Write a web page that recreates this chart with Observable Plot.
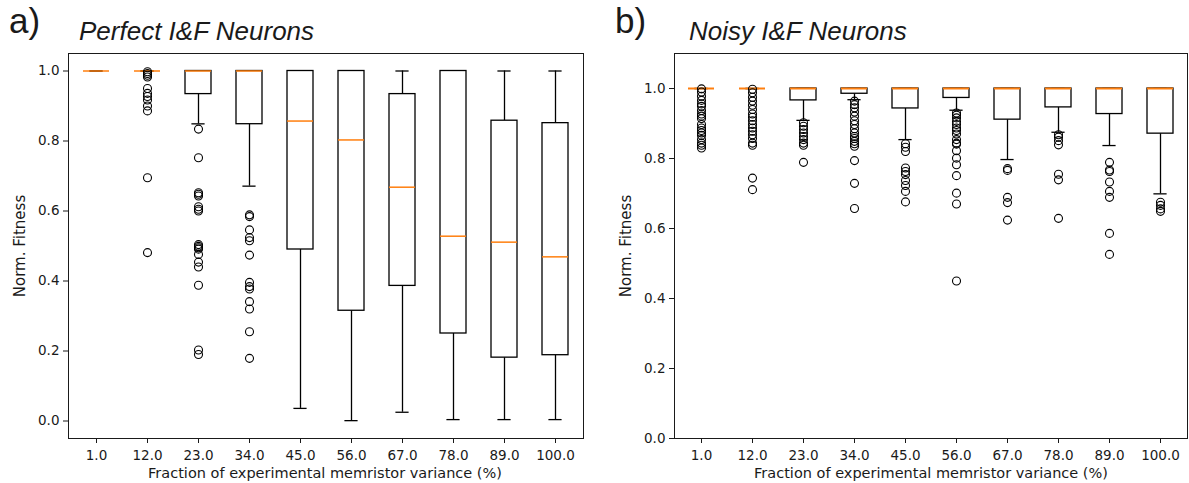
<!DOCTYPE html>
<html>
<head>
<meta charset="utf-8">
<script src="https://cdn.jsdelivr.net/npm/d3@7"></script>
<script src="https://cdn.jsdelivr.net/npm/@observablehq/plot@0.6"></script>
<style>
  html, body { margin: 0; padding: 0; background: white; }
  #wrap { position: relative; width: 1189px; height: 483px; overflow: hidden; background: white; }
  .panel { position: absolute; top: 0; }
  .lbl { position: absolute; white-space: nowrap; line-height: 1; color: #1a1a1a; }
  .axlab { font-family: "DejaVu Sans", sans-serif; }
  .title { font-family: "Liberation Sans", Arial, sans-serif; font-style: italic; font-size: 26px; }
  .letter { font-family: "Liberation Sans", Arial, sans-serif; font-size: 35px; }
  .ylab { font-size: 15px; transform: translate(-50%, -50%) rotate(-90deg); }
  .xlab { font-size: 14.5px; transform: translateX(-50%); }
</style>
</head>
<body>
<div id="wrap">
  <div class="panel" id="pa" style="left:0px"></div>
  <div class="panel" id="pb" style="left:600px"></div>
  <div class="lbl letter" style="left:9px; top:3px">a)</div>
  <div class="lbl title" style="left:79px; top:18px">Perfect I&amp;F Neurons</div>
  <div class="lbl letter" style="left:615px; top:3px">b)</div>
  <div class="lbl title" style="left:689px; top:18px">Noisy I&amp;F Neurons</div>
  <div class="lbl axlab ylab" style="left:20px; top:246px">Norm. Fitness</div>
  <div class="lbl axlab ylab" style="left:626px; top:246px">Norm. Fitness</div>
  <div class="lbl axlab xlab" style="left:325px; top:466px">Fraction of experimental memristor variance (%)</div>
  <div class="lbl axlab xlab" style="left:931px; top:466px">Fraction of experimental memristor variance (%)</div>
</div>
<script>
// ---------- data ----------
const categories = ["1.0", "12.0", "23.0", "34.0", "45.0", "56.0", "67.0", "78.0", "89.0", "100.0"];
const yTicks = [0, 0.2, 0.4, 0.6, 0.8, 1.0];

// a) Perfect I&F neurons
const perfectLow    = [1.0, 1.0, 0.849, 0.671, 0.036, 0.001, 0.025, 0.004, 0.004, 0.004];
const perfectQ1     = [1.0, 1.0, 0.934, 0.848, 0.490, 0.315, 0.386, 0.250, 0.181, 0.188];
const perfectMedian = [1.0, 1.0, 1.0, 1.0, 0.857, 0.803, 0.668, 0.528, 0.511, 0.469];
const perfectQ3     = [1.0, 1.0, 1.0, 1.0, 1.0, 1.0, 0.934, 1.0, 0.858, 0.851];
const perfectHigh   = [1.0, 1.0, 1.0, 1.0, 1.0, 1.0, 1.0, 1.0, 1.0, 1.0];
const perfectOutliers = [
  [],
  [0.998, 0.993, 0.988, 0.983, 0.950, 0.936, 0.927, 0.917, 0.900, 0.886, 0.695, 0.481],
  [0.834, 0.752, 0.652, 0.648, 0.643, 0.612, 0.605, 0.600, 0.504, 0.499, 0.495, 0.491, 0.476, 0.454, 0.440, 0.388, 0.203, 0.190],
  [0.589, 0.584, 0.546, 0.524, 0.515, 0.474, 0.396, 0.384, 0.377, 0.341, 0.320, 0.255, 0.179],
  [], [], [], [], [], []
];

// b) Noisy I&F neurons
const noisyLow    = [1.0, 1.0, 0.909, 0.968, 0.854, 0.938, 0.797, 0.875, 0.837, 0.699];
const noisyQ1     = [1.0, 1.0, 0.966, 0.985, 0.943, 0.973, 0.911, 0.946, 0.927, 0.871];
const noisyMedian = [1.0, 1.0, 1.0, 1.0, 1.0, 1.0, 1.0, 1.0, 1.0, 1.0];
const noisyQ3     = [1.0, 1.0, 1.0, 1.0, 1.0, 1.0, 1.0, 1.0, 1.0, 1.0];
const noisyHigh   = [1.0, 1.0, 1.0, 1.0, 1.0, 1.0, 1.0, 1.0, 1.0, 1.0];
const noisyOutliers = [
  [0.999, 0.990, 0.978, 0.966, 0.956, 0.949, 0.937, 0.927, 0.921, 0.914, 0.897, 0.887, 0.880, 0.873, 0.866, 0.854, 0.844, 0.838, 0.830],
  [0.998, 0.988, 0.975, 0.964, 0.952, 0.940, 0.927, 0.918, 0.908, 0.897, 0.887, 0.878, 0.868, 0.857, 0.844, 0.838, 0.744, 0.711],
  [0.902, 0.892, 0.883, 0.873, 0.863, 0.854, 0.844, 0.838, 0.789],
  [0.964, 0.954, 0.945, 0.933, 0.921, 0.908, 0.897, 0.885, 0.873, 0.863, 0.857, 0.849, 0.842, 0.835, 0.794, 0.729, 0.657],
  [0.842, 0.832, 0.820, 0.773, 0.763, 0.754, 0.737, 0.723, 0.706, 0.676],
  [0.930, 0.924, 0.916, 0.906, 0.897, 0.887, 0.880, 0.870, 0.854, 0.844, 0.841, 0.822, 0.801, 0.782, 0.751, 0.701, 0.670, 0.450],
  [0.771, 0.766, 0.689, 0.674, 0.624],
  [0.868, 0.861, 0.851, 0.839, 0.755, 0.739, 0.629],
  [0.789, 0.767, 0.763, 0.733, 0.706, 0.689, 0.586, 0.526],
  [0.675, 0.666, 0.656, 0.649]
];

// ---------- drawing ----------
function stats(low, q1, med, q3, high) {
  return categories.map((c, i) => ({cat: c, low: low[i], q1: q1[i], median: med[i], q3: q3[i], high: high[i]}));
}
function flat(outs) {
  return outs.flatMap((arr, i) => arr.map(v => ({cat: categories[i], v})));
}

function boxChart(box, outs, opts) {
  const lineW = 1.3;
  const capInset = 6.4;
  return Plot.plot({
    width: opts.width,
    height: 483,
    marginLeft: opts.marginLeft,
    marginRight: opts.marginRight,
    marginTop: 53,
    marginBottom: 45,
    style: {fontFamily: "DejaVu Sans, sans-serif", fontSize: "13.5px", color: "#1a1a1a", background: "white", overflow: "visible"},
    x: {type: "band", domain: categories, paddingInner: 0.5, paddingOuter: 0.25, label: null, tickSize: 5, tickPadding: 7},
    y: {domain: opts.yDomain, ticks: yTicks, tickFormat: d3.format(".1f"), label: null, tickSize: 5, tickPadding: 4},
    marks: [
      Plot.ruleX(box, {x: "cat", y1: "q3", y2: "high", stroke: "black", strokeWidth: lineW}),
      Plot.ruleX(box, {x: "cat", y1: "low", y2: "q1", stroke: "black", strokeWidth: lineW}),
      Plot.tickY(box, {x: "cat", y: "high", stroke: "black", strokeWidth: lineW, insetLeft: capInset, insetRight: capInset}),
      Plot.tickY(box, {x: "cat", y: "low", stroke: "black", strokeWidth: lineW, insetLeft: capInset, insetRight: capInset}),
      Plot.barY(box, {x: "cat", y1: "q1", y2: "q3", fill: "white", stroke: "black", strokeWidth: lineW}),
      Plot.tickY(box, {x: "cat", y: "median", stroke: "#ff7f0e", strokeWidth: opts.medianW}),
      Plot.dot(outs, {x: "cat", y: "v", r: 4, stroke: "black", fill: "none", strokeWidth: 1.1}),
      Plot.frame({stroke: "#1a1a1a", strokeWidth: 1})
    ]
  });
}

document.getElementById("pa").appendChild(boxChart(
  stats(perfectLow, perfectQ1, perfectMedian, perfectQ3, perfectHigh),
  flat(perfectOutliers),
  {width: 600, marginLeft: 68, marginRight: 17, yDomain: [-0.05, 1.05], medianW: 1.5}
));
document.getElementById("pb").appendChild(boxChart(
  stats(noisyLow, noisyQ1, noisyMedian, noisyQ3, noisyHigh),
  flat(noisyOutliers),
  {width: 589, marginLeft: 74, marginRight: 2, yDomain: [0, 1.1], medianW: 2}
));
</script>
</body>
</html>
